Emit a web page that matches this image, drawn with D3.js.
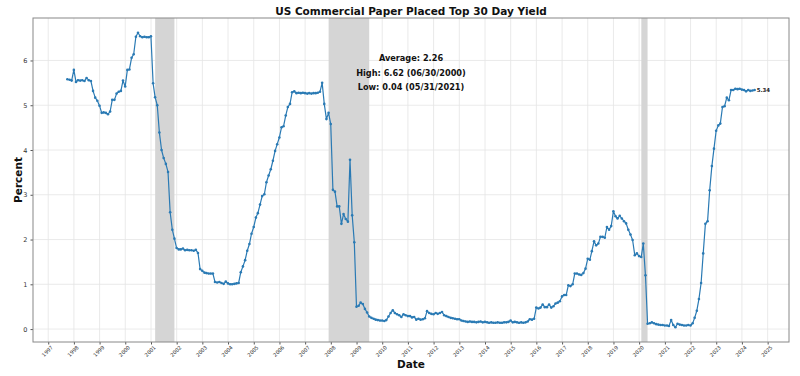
<!DOCTYPE html>
<html><head><meta charset="utf-8">
<script src="https://cdn.jsdelivr.net/npm/d3@7"></script>
<style>body{margin:0;background:#fff}svg{display:block}</style>
</head><body>
<svg id="c" width="800" height="376"></svg>
<script>
// ---- data (monthly, end of month) ----
const startYear = 1997, startMonthIndex = 8; // September 1997
const rates1997 = [5.58, 5.57, 5.55, 5.79];
const rates1998 = [5.52, 5.56, 5.55, 5.56, 5.54, 5.61, 5.56, 5.54, 5.32, 5.17, 5.10, 4.99];
const rates1999 = [4.83, 4.84, 4.83, 4.80, 4.86, 5.12, 5.12, 5.26, 5.30, 5.32, 5.55, 5.42];
const rates2000 = [5.79, 5.80, 6.06, 6.14, 6.53, 6.62, 6.54, 6.52, 6.53, 6.52, 6.52, 6.54];
const rates2001 = [5.49, 5.18, 5.00, 4.39, 4.00, 3.82, 3.69, 3.51, 2.61, 2.22, 2.02, 1.81];
const rates2002 = [1.78, 1.78, 1.80, 1.76, 1.77, 1.76, 1.76, 1.75, 1.77, 1.70, 1.34, 1.30];
const rates2003 = [1.26, 1.25, 1.24, 1.24, 1.24, 1.05, 1.04, 1.05, 1.03, 1.01, 1.06, 1.02];
const rates2004 = [1.00, 1.00, 1.01, 1.02, 1.03, 1.27, 1.40, 1.54, 1.75, 1.90, 2.13, 2.28];
const rates2005 = [2.49, 2.59, 2.78, 2.97, 3.01, 3.28, 3.43, 3.57, 3.76, 3.98, 4.13, 4.28];
const rates2006 = [4.51, 4.53, 4.77, 4.96, 5.03, 5.29, 5.31, 5.27, 5.28, 5.27, 5.28, 5.27];
const rates2007 = [5.26, 5.27, 5.26, 5.27, 5.27, 5.28, 5.30, 5.50, 5.03, 4.69, 4.83, 4.58];
const rates2008 = [3.11, 3.07, 2.74, 2.74, 2.35, 2.57, 2.46, 2.40, 3.78, 2.54, 1.94, 0.50];
const rates2009 = [0.52, 0.59, 0.56, 0.45, 0.37, 0.28, 0.25, 0.23, 0.21, 0.20, 0.19, 0.19];
const rates2010 = [0.18, 0.20, 0.28, 0.36, 0.42, 0.36, 0.33, 0.31, 0.27, 0.33, 0.31, 0.29];
const rates2011 = [0.29, 0.26, 0.27, 0.21, 0.23, 0.21, 0.22, 0.24, 0.40, 0.36, 0.34, 0.33];
const rates2012 = [0.36, 0.34, 0.36, 0.38, 0.31, 0.29, 0.27, 0.25, 0.24, 0.23, 0.22, 0.22];
const rates2013 = [0.19, 0.18, 0.17, 0.16, 0.17, 0.16, 0.16, 0.15, 0.16, 0.17, 0.15, 0.16];
const rates2014 = [0.15, 0.14, 0.15, 0.14, 0.14, 0.15, 0.14, 0.14, 0.15, 0.15, 0.16, 0.19];
const rates2015 = [0.15, 0.16, 0.15, 0.14, 0.15, 0.14, 0.15, 0.17, 0.22, 0.21, 0.23, 0.48];
const rates2016 = [0.46, 0.48, 0.55, 0.49, 0.49, 0.55, 0.48, 0.51, 0.57, 0.59, 0.62, 0.73];
const rates2017 = [0.76, 0.76, 0.98, 0.96, 1.00, 1.24, 1.24, 1.22, 1.21, 1.25, 1.35, 1.57];
const rates2018 = [1.55, 1.74, 1.96, 1.87, 1.91, 2.06, 2.06, 2.04, 2.28, 2.22, 2.30, 2.63];
const rates2019 = [2.52, 2.47, 2.53, 2.47, 2.41, 2.36, 2.22, 2.11, 1.99, 1.65, 1.69, 1.63];
const rates2020 = [1.61, 1.91, 1.20, 0.12, 0.13, 0.15, 0.13, 0.11, 0.10, 0.09, 0.09, 0.08];
const rates2021 = [0.08, 0.07, 0.20, 0.09, 0.04, 0.12, 0.10, 0.09, 0.08, 0.08, 0.09, 0.08];
const rates2022 = [0.13, 0.25, 0.41, 0.67, 1.03, 1.69, 2.35, 2.41, 3.10, 3.64, 4.03, 4.43];
const rates2023 = [4.55, 4.59, 4.96, 4.98, 5.17, 5.11, 5.34, 5.34, 5.37, 5.36, 5.37, 5.35];
const rates2024 = [5.34, 5.31, 5.34, 5.32, 5.33, 5.34];

const yearTicks = d3.range(1997, 2026);
const yTicks = [0, 1, 2, 3, 4, 5, 6];
const recessions = [["2001-03-01", "2001-11-30"], ["2007-12-01", "2009-06-30"], ["2020-02-01", "2020-04-30"]];
const statLines = ["Average: 2.26", "High: 6.62 (06/30/2000)", "Low: 0.04 (05/31/2021)"];
const titleText = "US Commercial Paper Placed Top 30 Day Yield";
const xLabel = "Date", yLabel = "Percent";
const lastLabel = "5.34";

// ---- build series ----
const allRates = [].concat(rates1997, rates1998, rates1999, rates2000, rates2001, rates2002, rates2003,
  rates2004, rates2005, rates2006, rates2007, rates2008, rates2009, rates2010, rates2011, rates2012,
  rates2013, rates2014, rates2015, rates2016, rates2017, rates2018, rates2019, rates2020, rates2021,
  rates2022, rates2023, rates2024);
const data = allRates.map((v, i) => {
  const mi = startMonthIndex + i;
  const y = startYear + Math.floor(mi / 12), m = mi % 12;
  return { date: new Date(y, m + 1, 0), value: v };
});
const parse = s => { const [y, m, d] = s.split("-").map(Number); return new Date(y, m - 1, d); };

// ---- layout ----
const L = 33, R = 789, T = 18, B = 342;
const svg = d3.select("#c");
const t0 = +data[0].date, t1 = +data[data.length - 1].date, span = t1 - t0;
const x = d3.scaleTime().domain([new Date(t0 - 0.05 * span), new Date(t1 + 0.05 * span)]).range([L, R]);
const vmin = d3.min(allRates), vmax = d3.max(allRates), vs = vmax - vmin;
const y = d3.scaleLinear().domain([vmin - 0.05 * vs, vmax + 0.05 * vs]).range([B, T]);

// grid
const grid = svg.append("g");
grid.selectAll("line.v").data(yearTicks).join("line")
  .attr("x1", d => x(new Date(d, 0, 1))).attr("x2", d => x(new Date(d, 0, 1)))
  .attr("y1", T).attr("y2", B).attr("stroke", "#e4e4e4").attr("stroke-width", 0.8);
grid.selectAll("line.h").data(yTicks).join("line")
  .attr("x1", L).attr("x2", R).attr("y1", d => y(d)).attr("y2", d => y(d))
  .attr("stroke", "#e4e4e4").attr("stroke-width", 0.8);

// recessions
svg.append("g").selectAll("rect").data(recessions).join("rect")
  .attr("x", d => x(parse(d[0]))).attr("width", d => x(parse(d[1])) - x(parse(d[0])))
  .attr("y", T).attr("height", B - T).attr("fill", "#d5d5d5");

// axes
const xAxis = d3.axisBottom(x).tickValues(yearTicks.map(d => new Date(d, 0, 1)))
  .tickFormat(d3.timeFormat("%Y")).tickSize(2.5).tickPadding(2);
const gx = svg.append("g").attr("transform", `translate(0,${B})`).call(xAxis);
gx.select(".domain").remove();
gx.selectAll(".tick line").attr("stroke", "#555");
gx.selectAll(".tick text").attr("font-family", "DejaVu Sans").attr("font-size", 5.2).attr("fill", "#333")
  .attr("text-anchor", "middle").attr("dy", null).attr("y", 0)
  .attr("transform", "translate(0,10.5) rotate(-45)");

const yAxis = d3.axisLeft(y).tickValues(yTicks).tickFormat(d3.format("d")).tickSize(2.5).tickPadding(3);
const gy = svg.append("g").attr("transform", `translate(${L},0)`).call(yAxis);
gy.select(".domain").remove();
gy.selectAll(".tick line").attr("stroke", "#555");
gy.selectAll(".tick text").attr("font-family", "DejaVu Sans").attr("font-size", 6.5).attr("fill", "#333");

// frame
svg.append("rect").attr("x", L).attr("y", T).attr("width", R - L).attr("height", B - T)
  .attr("fill", "none").attr("stroke", "#888").attr("stroke-width", 1);

// line + markers
const line = d3.line().x(d => x(d.date)).y(d => y(d.value));
svg.append("path").datum(data).attr("d", line).attr("fill", "none")
  .attr("stroke", "#2a7ab4").attr("stroke-width", 1.2).attr("stroke-linejoin", "round");
svg.append("g").selectAll("circle").data(data).join("circle")
  .attr("cx", d => x(d.date)).attr("cy", d => y(d.value)).attr("r", 1.3).attr("fill", "#2a7ab4");

// last value label
const last = data[data.length - 1];
svg.append("text").attr("x", x(last.date) + 2).attr("y", y(last.value)).attr("dy", "0.35em")
  .attr("font-family", "DejaVu Sans").attr("font-weight", "bold").attr("font-size", 5.4)
  .attr("fill", "#222").text(lastLabel);

// stats
svg.append("g").selectAll("text").data(statLines).join("text")
  .attr("x", (L + R) / 2).attr("y", (d, i) => 61 + i * 14.6).attr("text-anchor", "middle")
  .attr("font-family", "DejaVu Sans").attr("font-weight", "bold").attr("font-size", 8.2)
  .attr("fill", "#111").text(d => d);

// titles
svg.append("text").attr("x", (L + R) / 2).attr("y", 15).attr("text-anchor", "middle")
  .attr("font-family", "DejaVu Sans").attr("font-weight", "bold").attr("font-size", 10.5)
  .attr("fill", "#111").text(titleText);
svg.append("text").attr("x", (L + R) / 2).attr("y", 368).attr("text-anchor", "middle")
  .attr("font-family", "DejaVu Sans").attr("font-weight", "bold").attr("font-size", 10.5)
  .attr("fill", "#111").text(xLabel);
svg.append("text").attr("transform", `translate(22,${(T + B) / 2}) rotate(-90)`).attr("text-anchor", "middle")
  .attr("font-family", "DejaVu Sans").attr("font-weight", "bold").attr("font-size", 10.5)
  .attr("fill", "#111").text(yLabel);
</script>
</body></html>
